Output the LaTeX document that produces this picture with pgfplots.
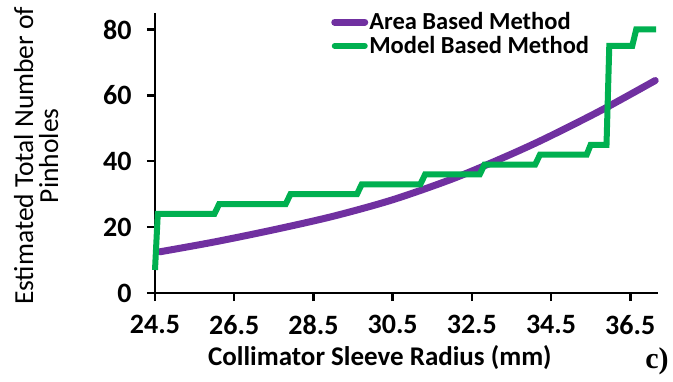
\documentclass[border=0pt]{standalone}
\usepackage{fontspec}
\setmainfont{Carlito}
\newfontfamily\seriffont{Liberation Serif}
\usepackage{pgfplots}
\pgfplotsset{compat=1.18}
\definecolor{areapurple}{HTML}{7030A0}
\definecolor{modelgreen}{HTML}{00B050}
\begin{document}
\begin{tikzpicture}
\useasboundingbox (-155pt,-88pt) rectangle (518pt,293pt);
\begin{axis}[
  scale only axis,
  width=503pt, height=280pt,
  xmin=24.5, xmax=37.2,
  ymin=0, ymax=85,
  axis lines=left,
  axis line style={-, line width=2.5pt, black},
  xtick={24.5,26.5,28.5,30.5,32.5,34.5,36.5},
  ytick={0,20,40,60,80},
  xticklabels={24.5,26.5,28.5,30.5,32.5,34.5,36.5},
  tick align=outside,
  major tick length=8pt,
  tick style={line width=2.5pt, black},
  /pgf/number format/assume math mode=true,
  ticklabel style={font=\fontsize{28}{30}\selectfont\bfseries},
  xticklabel style={yshift=-11pt},
  yticklabel style={xshift=-12pt},
  xlabel={Collimator Sleeve Radius (mm)},
  xlabel style={font=\fontsize{27}{30}\selectfont\bfseries, at={(axis description cs:0.447,-0.229)}, anchor=center},
  ylabel={Estimated Total Number of\\Pinholes},
  ylabel style={font=\fontsize{27.5}{25}\selectfont, align=center, at={(axis description cs:-0.236,0.49)}, anchor=center},
  legend style={draw=none, fill=none, at={(axis description cs:0.35,1.005)}, anchor=north west,
    font=\fontsize{24.5}{26}\selectfont\bfseries, inner sep=0pt, row sep=3pt,
    nodes={inner sep=1pt}},
  legend cell align=left,
  legend image code/.code={\draw[#1, line cap=round] (0pt,0pt) -- (30pt,0pt);},
  clip=false,
]
\addplot[areapurple, line width=7pt, line cap=round, smooth, tension=0.5] coordinates {
(24.62,12.5) (26,15.5) (27.5,19.2) (29,23.3) (30.5,28.3) (32,34.6) (33.2,40.6)
(34.3,46.6) (35.74,55.3) (37.13,64.5)
};
\addlegendentry{Area Based Method}
\addplot[modelgreen, line width=6pt] coordinates {
(24.5,7) (24.57,24) (26.0,24) (26.12,27) (27.8,27) (27.92,30) (29.6,30) (29.72,33)
(31.2,33) (31.32,36) (32.7,36) (32.82,39) (34.1,39) (34.22,42) (35.4,42) (35.5,45)
(35.9,45) (35.97,75) (36.55,75) (36.65,80) (37.15,80)
};
\addlegendentry{Model Based Method}
\end{axis}
\node[font=\fontsize{30}{32}\selectfont\bfseries\seriffont] at (502pt,-68pt) {c)};
\end{tikzpicture}
\end{document}
